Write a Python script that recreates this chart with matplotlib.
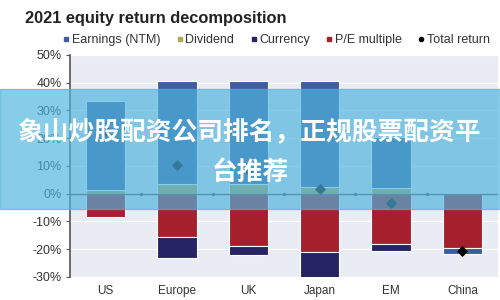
import numpy as np
import matplotlib
matplotlib.use('Agg')
import matplotlib.pyplot as plt
from matplotlib.patches import Rectangle
from matplotlib.lines import Line2D

plt.rcParams['font.family'] = ['Liberation Sans', 'DejaVu Sans']

categories = ['US', 'Europe', 'UK', 'Japan', 'EM', 'China']
earnings = [32.2, 37.4, 36.9, 38.0, 18.2, -2.3]
dividend = [1.3, 3.3, 3.6, 2.5, 2.2, 0.4]
currency = [0.0, -7.7, -3.0, -9.5, -2.7, 0.0]
pe_multiple = [-8.4, -15.6, -19.0, -21.0, -18.0, -19.6]
total_return = [22.5, 10.2, 8.5, 1.8, -3.3, -20.7]

colors = {
    'Earnings (NTM)': '#3D5EA3',
    'Dividend': '#B3A552',
    'Currency': '#262463',
    'P/E multiple': '#A61F2D',
}

fig = plt.figure(figsize=(5, 3), dpi=100)
ax = fig.add_axes([0.14, 0.077, 0.856, 0.74])
ax.set_facecolor('#E9EDF3')

x = np.arange(len(categories))
pos = np.zeros(len(categories))
neg = np.zeros(len(categories))
# stacking order: positives dividend then earnings, negatives P/E, currency, earnings
for name, vals in [('Dividend', dividend), ('P/E multiple', pe_multiple),
                   ('Currency', currency), ('Earnings (NTM)', earnings)]:
    vals = np.array(vals)
    bottom = np.where(vals >= 0, pos, neg)
    ax.bar(x, vals, width=0.55, bottom=bottom, color=colors[name],
           edgecolor='white', linewidth=0.8, zorder=3)
    pos += np.where(vals >= 0, vals, 0)
    neg += np.where(vals < 0, vals, 0)

ax.scatter(x, total_return, marker='D', s=22, color='black', zorder=5)
ax.axhline(0, color='#555555', linewidth=1, zorder=4)
ax.plot(x[:-1] + 0.5, np.zeros(len(x) - 1), 'o', ms=1.5, color='#555555', zorder=4)

ax.set_xlim(-0.5, len(categories) - 0.5)
ax.set_ylim(-30, 50)
ax.set_yticks(np.arange(-30, 51, 10))
ax.set_yticklabels([f'{v}%' for v in range(-30, 51, 10)], fontsize=9, color='#333333')
ax.set_xticks(x)
ax.set_xticklabels(categories, fontsize=8.5, color='#333333')
ax.tick_params(axis='x', length=0, pad=6)
ax.tick_params(axis='y', length=3, color='#555555', direction='out', pad=3)
ax.grid(axis='y', color='white', linewidth=0.8, zorder=0)
for s in ['top', 'right', 'bottom']:
    ax.spines[s].set_visible(False)
ax.spines['left'].set_color('#555555')
ax.spines['left'].set_linewidth(1.2)

fig.text(0.05, 0.94, '2021 equity return decomposition', fontsize=11.8,
         fontweight='bold', color='#222222', va='center')

handles = [Line2D([], [], marker='s', ls='', color=c, ms=3) for c in colors.values()]
handles.append(Line2D([], [], marker='o', ls='', color='black', ms=3))
labels = list(colors.keys()) + ['Total return']
fig.legend(handles, labels, loc='center left', bbox_to_anchor=(0.1, 0.867),
           ncol=5, frameon=False, fontsize=9, handletextpad=0.05,
           columnspacing=1.15, handlelength=0.8, labelcolor='#333333')

# overlay banner
fig.patches.append(Rectangle((0, 0.303), 1, 0.4, transform=fig.transFigure,
                             color='#4EB4DE', alpha=0.68, zorder=10))
fig.text(0.5, 0.56, '象山炒股配资公司排名，正规股票配资平', fontsize=18.5,
         fontweight='bold', color='white', ha='center', va='center',
         family=['Noto Sans CJK SC', 'DejaVu Sans'], zorder=11)
fig.text(0.5, 0.427, '台推荐', fontsize=18.5, fontweight='bold', color='white',
         ha='center', va='center', family=['Noto Sans CJK SC', 'DejaVu Sans'], zorder=11)

fig.savefig('out.png', dpi=100)
